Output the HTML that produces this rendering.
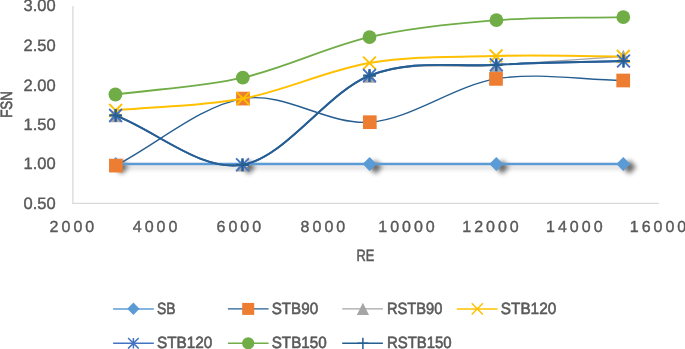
<!DOCTYPE html>
<html><head><meta charset="utf-8"><title>FSN vs RE</title>
<style>
html,body{margin:0;padding:0;background:#fff;}
body{width:685px;height:349px;overflow:hidden;}
svg{display:block;}
text{font-family:"Liberation Sans",sans-serif;fill:#595959;stroke:#595959;stroke-width:0.4px;text-rendering:geometricPrecision;}
.yl{font-size:16.5px;text-anchor:end;}
.xl{font-size:16px;text-anchor:middle;letter-spacing:3.0px;}
.lg{font-size:16.3px;stroke-width:0.6px;}
.tt{font-size:16.3px;stroke-width:0.55px;}
</style></head><body>
<svg width="685" height="349" viewBox="0 0 685 349">
<defs>
<filter id="sh" x="-5%" y="-200%" width="110%" height="500%"><feGaussianBlur stdDeviation="2.5"/></filter>
</defs>
<rect width="685" height="349" fill="#fff"/>

<path d="M72.9 6.3 V203.35 H658.7" fill="none" stroke="#D9D9D9" stroke-width="1.3"/>
<text class="yl" x="55.7" y="11.4">3.00</text>
<text class="yl" x="55.7" y="51.2">2.50</text>
<text class="yl" x="55.7" y="90.6">2.00</text>
<text class="yl" x="55.7" y="130.0">1.50</text>
<text class="yl" x="55.7" y="169.4">1.00</text>
<text class="yl" x="55.7" y="208.8">0.50</text>
<text class="xl" x="73.4" y="232.1">2000</text>
<text class="xl" x="156.6" y="232.1">4000</text>
<text class="xl" x="240.3" y="232.1">6000</text>
<text class="xl" x="324.4" y="232.1">8000</text>
<text class="xl" x="408.0" y="232.1">10000</text>
<text class="xl" x="492.0" y="232.1">12000</text>
<text class="xl" x="575.8" y="232.1">14000</text>
<text class="xl" x="659.5" y="232.1">16000</text>
<text class="tt" x="356.5" y="260.7" textLength="17.9" lengthAdjust="spacingAndGlyphs">RE</text>
<text class="tt" transform="translate(12.3 117.8) rotate(-90)" textLength="26.7" lengthAdjust="spacingAndGlyphs" style="stroke-width:0.65px">FSN</text>
<g filter="url(#sh)" opacity="0.6" transform="translate(6.0 3.1)">
<path d="M115.75 164 H623.30" stroke="#000" stroke-width="2.3" opacity="0.45" fill="none"/>
<path d="M115.75 157.10 L122.65 164.00 L115.75 170.90 L108.85 164.00Z" fill="#000"/>
<path d="M242.70 157.10 L249.60 164.00 L242.70 170.90 L235.80 164.00Z" fill="#000"/>
<path d="M369.60 157.10 L376.50 164.00 L369.60 170.90 L362.70 164.00Z" fill="#000"/>
<path d="M496.30 157.10 L503.20 164.00 L496.30 170.90 L489.40 164.00Z" fill="#000"/>
<path d="M623.30 157.10 L630.20 164.00 L623.30 170.90 L616.40 164.00Z" fill="#000"/>
</g>
<path d="M242.70 157.00 L250.10 164.00 L242.70 171.00 L235.30 164.00Z" fill="#fff"/>
<path d="M115.75 164 H623.30" stroke="#5B9BD5" stroke-width="2.3" fill="none"/>
<path d="M115.75 157.10 L122.75 164.00 L115.75 170.90 L108.75 164.00Z" fill="#5B9BD5"/>
<path d="M369.60 157.10 L376.60 164.00 L369.60 170.90 L362.60 164.00Z" fill="#5B9BD5"/>
<path d="M496.30 157.10 L503.30 164.00 L496.30 170.90 L489.30 164.00Z" fill="#5B9BD5"/>
<path d="M623.30 157.10 L630.30 164.00 L623.30 170.90 L616.30 164.00Z" fill="#5B9BD5"/>
<path d="M115.90 165.60 C158.27 143.27 200.68 105.83 243.00 98.60 C285.32 91.37 327.63 125.48 369.80 122.20 C411.97 118.92 453.77 85.85 496.00 78.90 C538.23 71.95 580.80 79.97 623.20 80.50" stroke="#255E91" stroke-width="1.4" fill="none"/>
<g fill="#ED7D31"><rect x="109.05" y="158.75" width="13.70" height="13.70"/><rect x="236.15" y="91.75" width="13.70" height="13.70"/><rect x="362.95" y="115.35" width="13.70" height="13.70"/><rect x="489.15" y="72.05" width="13.70" height="13.70"/><rect x="616.35" y="73.65" width="13.70" height="13.70"/></g>
<path d="M115.60 115.60 C157.90 132.00 200.18 171.40 242.50 164.80 C284.82 158.20 327.20 92.57 369.50 76.00 C411.80 59.43 454.00 68.67 496.30 65.40 C538.60 62.13 580.97 59.40 623.30 56.40" stroke="#A5A5A5" stroke-width="1.4" fill="none"/>
<g fill="#A5A5A5"><path d="M115.60 108.90 L122.30 122.30 L108.90 122.30Z"/><path d="M242.50 158.10 L249.20 171.50 L235.80 171.50Z"/><path d="M369.50 69.30 L376.20 82.70 L362.80 82.70Z"/><path d="M496.30 58.70 L503.00 72.10 L489.60 72.10Z"/><path d="M623.30 49.70 L630.00 63.10 L616.60 63.10Z"/></g>
<path d="M115.65 110.40 C158.10 106.47 200.69 106.50 243.00 98.60 C285.31 90.70 327.32 70.12 369.50 63.00 C411.68 55.88 453.80 57.00 496.10 55.90 C538.40 54.80 580.90 56.23 623.30 56.40" stroke="#FFC000" stroke-width="2.05" fill="none"/>
<g stroke="#FFC000" stroke-width="1.9" fill="none"><path d="M109.25 104.00 L122.05 116.80 M109.25 116.80 L122.05 104.00"/><path d="M236.60 92.20 L249.40 105.00 M236.60 105.00 L249.40 92.20"/><path d="M363.10 56.60 L375.90 69.40 M363.10 69.40 L375.90 56.60"/><path d="M489.70 49.50 L502.50 62.30 M489.70 62.30 L502.50 49.50"/><path d="M616.90 50.00 L629.70 62.80 M616.90 62.80 L629.70 50.00"/></g>
<path d="M115.60 115.40 C157.90 131.87 200.18 171.43 242.50 164.80 C284.82 158.17 327.20 92.27 369.50 75.60 C411.80 58.93 453.97 67.23 496.30 64.80 C538.63 62.37 581.10 62.27 623.50 61.00" stroke="#4472C4" stroke-width="1.8" fill="none"/>
<g stroke="#4472C4" stroke-width="1.9" fill="none"><path d="M109.20 109.00 L122.00 121.80 M109.20 121.80 L122.00 109.00 M115.60 109.00 L115.60 121.80"/><path d="M236.10 158.40 L248.90 171.20 M236.10 171.20 L248.90 158.40 M242.50 158.40 L242.50 171.20"/><path d="M363.10 69.20 L375.90 82.00 M363.10 82.00 L375.90 69.20 M369.50 69.20 L369.50 82.00"/><path d="M489.90 58.40 L502.70 71.20 M489.90 71.20 L502.70 58.40 M496.30 58.40 L496.30 71.20"/><path d="M617.10 54.60 L629.90 67.40 M617.10 67.40 L629.90 54.60 M623.50 54.60 L623.50 67.40"/></g>
<path d="M115.40 94.50 C157.87 88.87 200.45 87.17 242.80 77.60 C285.15 68.03 327.23 46.67 369.50 37.10 C411.77 27.53 454.10 23.53 496.40 20.20 C538.70 16.87 581.00 18.13 623.30 17.10" stroke="#70AD47" stroke-width="1.85" fill="none"/>
<g fill="#70AD47"><circle cx="115.40" cy="94.50" r="6.9"/><circle cx="242.80" cy="77.60" r="6.9"/><circle cx="369.50" cy="37.10" r="6.9"/><circle cx="496.40" cy="20.20" r="6.9"/><circle cx="623.30" cy="17.10" r="6.9"/></g>
<path d="M115.60 115.40 C157.90 131.87 200.18 171.43 242.50 164.80 C284.82 158.17 327.20 92.27 369.50 75.60 C411.80 58.93 453.97 67.23 496.30 64.80 C538.63 62.37 581.10 62.27 623.50 61.00" stroke="#255E91" stroke-width="1.95" fill="none"/>
<g stroke="#255E91" stroke-width="2.2" fill="none"><path d="M109.20 115.40 L122.00 115.40 M115.60 109.00 L115.60 121.80"/><path d="M236.10 164.80 L248.90 164.80 M242.50 158.40 L242.50 171.20"/><path d="M363.10 75.60 L375.90 75.60 M369.50 69.20 L369.50 82.00"/><path d="M489.90 64.80 L502.70 64.80 M496.30 58.40 L496.30 71.20"/><path d="M617.10 61.00 L629.90 61.00 M623.50 54.60 L623.50 67.40"/></g>
<path d="M113.1 308.9 H153.8" stroke="#5B9BD5" stroke-width="1.5" fill="none"/>
<path d="M133.40 302.40 L139.50 308.75 L133.40 315.10 L127.30 308.75Z" fill="#5B9BD5"/>
<text class="lg" x="157.0" y="313.7" textLength="18.6" lengthAdjust="spacingAndGlyphs">SB</text>
<path d="M227.9 308.9 H268.6" stroke="#255E91" stroke-width="1.3" fill="none"/>
<g fill="#ED7D31"><rect x="242.20" y="302.90" width="12.00" height="12.00"/></g>
<text class="lg" x="271.7" y="313.7" textLength="46.4" lengthAdjust="spacingAndGlyphs">STB90</text>
<path d="M342.2 308.9 H382.9" stroke="#A5A5A5" stroke-width="1.3" fill="none"/>
<g fill="#A5A5A5"><path d="M362.90 302.70 L369.00 314.90 L356.80 314.90Z"/></g>
<text class="lg" x="386.9" y="313.7" textLength="55.5" lengthAdjust="spacingAndGlyphs">RSTB90</text>
<path d="M456.8 308.9 H497.5" stroke="#FFC000" stroke-width="1.5" fill="none"/>
<g stroke="#FFC000" stroke-width="1.5" fill="none"><path d="M471.70 303.30 L482.90 314.50 M471.70 314.50 L482.90 303.30"/></g>
<text class="lg" x="500.8" y="313.7" textLength="55.4" lengthAdjust="spacingAndGlyphs">STB120</text>
<path d="M113.1 343.3 H153.8" stroke="#4472C4" stroke-width="1.5" fill="none"/>
<g stroke="#4472C4" stroke-width="1.5" fill="none"><path d="M128.10 338.00 L138.70 348.60 M128.10 348.60 L138.70 338.00 M133.40 338.00 L133.40 348.60"/></g>
<text class="lg" x="157.0" y="348.2" textLength="55.4" lengthAdjust="spacingAndGlyphs">STB120</text>
<path d="M227.9 343.3 H268.6" stroke="#70AD47" stroke-width="1.5" fill="none"/>
<circle cx="248.2" cy="343.3" r="6.1" fill="#70AD47"/>
<text class="lg" x="271.7" y="348.2" textLength="55" lengthAdjust="spacingAndGlyphs">STB150</text>
<path d="M342.2 343.3 H382.9" stroke="#255E91" stroke-width="1.5" fill="none"/>
<g stroke="#255E91" stroke-width="1.5" fill="none"><path d="M357.30 343.30 L368.50 343.30 M362.90 337.70 L362.90 348.90"/></g>
<text class="lg" x="386.9" y="348.2" textLength="64.8" lengthAdjust="spacingAndGlyphs">RSTB150</text>
</svg></body></html>
